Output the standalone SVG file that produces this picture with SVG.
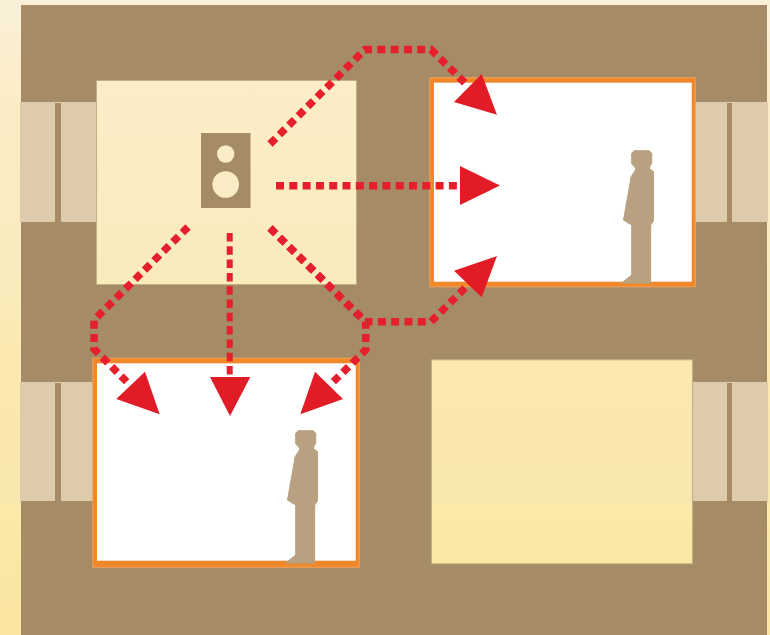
<svg xmlns="http://www.w3.org/2000/svg" width="770" height="635" viewBox="0 0 770 635">
<defs>
<linearGradient id="bg" gradientUnits="userSpaceOnUse" x1="0" y1="0" x2="0" y2="635">
<stop offset="0" stop-color="#f9f0d8"/>
<stop offset="0.14" stop-color="#fcedc8"/>
<stop offset="0.45" stop-color="#f9ebbc"/>
<stop offset="0.565" stop-color="#fde9b0"/>
<stop offset="0.79" stop-color="#f7e6ae"/>
<stop offset="0.798" stop-color="#fde9a8"/>
<stop offset="1" stop-color="#f9e4a0"/>
</linearGradient>
<path id="person" d="M631.700 153.300L634 150.700H649.300L651.700 153.300V163.300L649 168.300L653.500 171.700V221L650.700 225V283H621.700L631.700 275V225L623.500 220L631.200 176.700L635.500 170V168.300L631.700 163.300Z"/>
</defs>
<style>
.wall{fill:#a58b66}
.window{fill:#decbab}
.mullion{fill:#a58b66}
.room{fill:url(#bg);stroke:#c4ae84;stroke-width:1}
.frame{fill:#f0882a;stroke:#f4a257;stroke-width:1}
.glass{fill:#fff}
.figure{fill:#b8a181;stroke:#b8a181;stroke-width:1;stroke-linejoin:round}
.dash{fill:none;stroke:#e51f2b;stroke-width:7.500;stroke-dasharray:8 5.300}
.dashv{fill:none;stroke:#e51f2b;stroke-width:6;stroke-dasharray:8.500 4.800}
.head{fill:#e21c26}
</style>
<rect id="background" width="770" height="635" fill="url(#bg)"/>
<rect id="building" class="wall" x="21" y="5" width="746" height="630"/>
<g id="windows">
<rect class="window" x="20" y="102" width="77" height="120"/>
<rect class="mullion" x="55" y="103" width="6" height="119"/>
<rect class="window" x="694" y="102" width="74" height="120"/>
<rect class="mullion" x="727" y="103" width="5" height="119"/>
<rect class="window" x="20" y="382" width="74" height="119"/>
<rect class="mullion" x="55" y="383" width="6" height="118"/>
<rect class="window" x="691" y="382" width="77" height="119"/>
<rect class="mullion" x="727" y="383" width="5" height="118"/>
</g>
<g id="room-source">
<rect class="room" x="96.500" y="80.500" width="260" height="204"/>
<g id="speaker">
<rect class="wall" x="201" y="133" width="49.500" height="75"/>
<circle cx="225.700" cy="154" r="8.700" fill="#faecc4"/>
<circle cx="225.700" cy="184.500" r="13.300" fill="#faecc4"/>
</g>
</g>
<g id="room-upper-right">
<rect class="frame" x="429.800" y="77.800" width="265.500" height="209"/>
<rect class="glass" x="434" y="82.700" width="257.700" height="199"/>
<use href="#person" class="figure"/>
</g>
<g id="room-lower-left">
<rect class="frame" x="92.800" y="358.200" width="266.500" height="209"/>
<rect class="glass" x="97" y="363.300" width="258.700" height="197.400"/>
<use href="#person" class="figure" transform="translate(-336 280)"/>
</g>
<g id="room-lower-right">
<rect class="room" x="431.500" y="359.800" width="261" height="204"/>
</g>
<g id="connectors">
<path class="dash" d="M270 144L365 49.500H431L466 84"/>
<path class="dash" d="M276 185.700H462"/>
<path class="dash" d="M270 228L365 321.700H431L466 287"/>
<path class="dash" d="M270 228L365.700 321.700V350L333 382"/>
<path class="dash" d="M188 227L94 320V349L127 382"/>
<path class="dashv" d="M229.700 233V376"/>
<polygon class="head" points="481.700,74 497,114.700 454,102"/>
<polygon class="head" points="460,166 500,185.500 460,205"/>
<polygon class="head" points="497,256 454,270.700 481.700,297.300"/>
<polygon class="head" points="210,377 250.300,377 230,416"/>
<polygon class="head" points="145,371.700 116.300,399 159.700,414.300"/>
<polygon class="head" points="315,371.700 343,399 300.300,414.300"/>
</g>
</svg>
